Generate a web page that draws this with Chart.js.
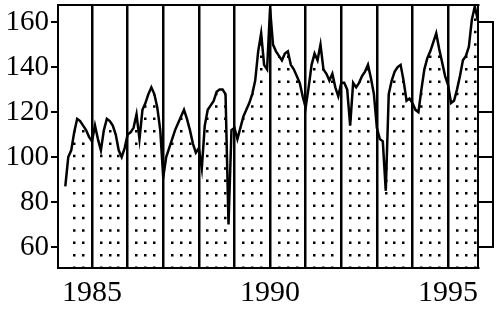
<!DOCTYPE html>
<html><head><meta charset="utf-8">
<script src="https://cdn.jsdelivr.net/npm/chart.js@4.4.1/dist/chart.umd.min.js"></script>
<style>html,body{margin:0;padding:0;background:#fff;} canvas{display:block;}</style>
</head><body>
<canvas id="c" width="500" height="310"></canvas>
<script>
// monthly series, first value = April 1984
const startYear = 1984;
const startMonth = 4;
const v1984 = [87, 100, 103, 111, 117, 116, 114, 112, 109];
const v1985 = [107, 114, 108, 103, 112, 117, 116, 114, 110, 103, 100, 104];
const v1986 = [110, 111, 113, 119, 108, 121, 124, 128, 131, 128, 122, 112];
const v1987 = [91, 100, 104, 108, 112, 115, 118, 121, 117, 112, 106, 102];
const v1988 = [104, 95, 114, 121, 123, 125, 129, 130, 130, 128, 70, 112];
const v1989 = [113, 108, 113, 118, 121, 124, 128, 134, 147, 155, 141, 139];
const v1990 = [166, 150, 147, 145, 143, 146, 147, 141, 139, 136, 133, 127];
const v1991 = [122, 131, 141, 146, 143, 150, 139, 137, 134, 137, 131, 127];
const v1992 = [133, 133, 130, 114, 133, 131, 133, 136, 138, 141, 135, 128];
const v1993 = [113, 108, 107, 85, 128, 134, 138, 140, 141, 134, 125, 126];
const v1994 = [124, 121, 120, 130, 139, 144, 147, 151, 155, 148, 142, 136];
const v1995 = [132, 124, 125, 130, 136, 143, 145, 149, 161, 167, 161];

const yTicks = [60, 80, 100, 120, 140, 160];
const yearLines = [1985, 1986, 1987, 1988, 1989, 1990, 1991, 1992, 1993, 1994, 1995];
const xLabelYears = [1985, 1990, 1995];
const quarterFractions = [0.25, 0.5, 0.75];

const xMin = 1984.045, xMax = 1995.84;
const yMin = 50.7, yMax = 167.6;

const allValues = [].concat(v1984, v1985, v1986, v1987, v1988, v1989, v1990, v1991, v1992, v1993, v1994, v1995);
const points = allValues.map((v, i) => ({ x: startYear + (startMonth - 1 + i) / 12, y: v }));
const firstX = points[0].x, lastX = points[points.length - 1].x;

const quarterTicks = [];
for (let yr = startYear; yr <= 1995; yr++) {
  for (const q of quarterFractions) {
    const v = yr + q;
    if (v > firstX + 0.001 && v < lastX) quarterTicks.push(v);
  }
}

const serif = "'Liberation Serif', 'DejaVu Serif', serif";

const noPadV = s => { s.paddingTop = 0; s.paddingBottom = 0; };
const noPadH = s => { s.paddingLeft = 0; s.paddingRight = 0; };

const rightBracket = {
  id: 'rightBracket',
  afterDraw(chart) {
    const s = chart.scales.yr;
    const ctx = chart.ctx;
    const x = chart.chartArea.right + 15;
    ctx.save();
    ctx.strokeStyle = '#000';
    ctx.lineWidth = 2;
    ctx.beginPath();
    ctx.moveTo(x, s.getPixelForValue(yTicks[yTicks.length - 1]) - 1);
    ctx.lineTo(x, s.getPixelForValue(yTicks[0]) + 1);
    ctx.stroke();
    ctx.restore();
  }
};

new Chart(document.getElementById('c'), {
  type: 'line',
  data: {
    datasets: [{
      data: points,
      borderColor: '#000',
      borderWidth: 2.5,
      pointRadius: 0,
      tension: 0,
      fill: 'end',
      backgroundColor: '#fff'
    }]
  },
  options: {
    responsive: false,
    animation: false,
    devicePixelRatio: 1,
    layout: { padding: { left: 6, right: 7, top: 5, bottom: 0 } },
    plugins: { legend: { display: false }, tooltip: { enabled: false } },
    scales: {
      x: {
        type: 'linear', position: 'bottom', min: xMin, max: xMax,
        afterBuildTicks: s => { s.ticks = yearLines.map(v => ({ value: v })); },
        afterFit: s => { noPadH(s); s.height = 42; },
        grid: { color: '#000', lineWidth: 2.5, drawTicks: false, z: 1 },
        border: { display: true, color: '#000', width: 2, z: 1 },
        ticks: {
          padding: 7, color: '#000', font: { family: serif, size: 30 },
          maxRotation: 0, autoSkip: false,
          callback: v => xLabelYears.includes(Math.round(v)) ? String(Math.round(v)) : ''
        }
      },
      xt: {
        type: 'linear', position: 'top', min: xMin, max: xMax,
        afterBuildTicks: s => { s.ticks = quarterTicks.map(v => ({ value: v })); },
        afterFit: s => { noPadH(s); s.height = 0; },
        grid: { color: '#000', lineWidth: 2.5, drawTicks: false },
        border: { display: true, color: '#000', width: 2, z: 1, dash: [2.5, 9.9] },
        ticks: { display: false }
      },
      y: {
        type: 'linear', position: 'left', min: yMin, max: yMax,
        afterBuildTicks: s => { s.ticks = yTicks.map(v => ({ value: v })); },
        afterFit: s => { noPadV(s); s.width = 52; },
        grid: { display: true, drawOnChartArea: false, drawTicks: true, tickLength: 7, color: '#000', lineWidth: 2 },
        border: { display: true, color: '#000', width: 2, z: 1 },
        ticks: { padding: 2, color: '#000', font: { family: serif, size: 29 } }
      },
      yr: {
        type: 'linear', position: 'right', min: yMin, max: yMax,
        afterBuildTicks: s => { s.ticks = yTicks.map(v => ({ value: v })); },
        afterFit: s => { noPadV(s); s.width = 15; },
        grid: { display: true, drawOnChartArea: false, drawTicks: true, tickLength: 15, color: '#000', lineWidth: 2 },
        border: { display: true, color: '#000', width: 2, z: 1 },
        ticks: { display: false }
      }
    }
  },
  plugins: [rightBracket]
});
</script>
</body></html>
